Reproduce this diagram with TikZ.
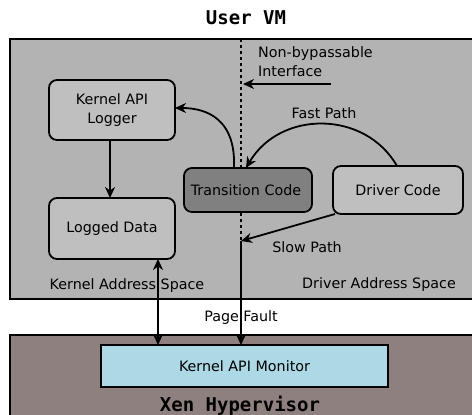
\documentclass[tikz,border=0pt]{standalone}
\usepackage{fontspec}
\setmainfont{DejaVu Sans}
\newfontfamily\monobold{DejaVu Sans Mono Bold}
\usetikzlibrary{arrows.meta}
\definecolor{vmgray}{HTML}{B3B3B3}
\definecolor{boxgray}{HTML}{BFBFBF}
\definecolor{darkbox}{HTML}{808080}
\definecolor{xenfill}{HTML}{8F8080}
\definecolor{monfill}{HTML}{ADD8E6}
\tikzset{
  region/.style={draw=black, line width=1.8pt},
  codebox/.style={draw=black, line width=1.8pt, rounded corners=8pt, fill=boxgray},
  lbl/.style={font=\fontsize{14.3}{19.5}\selectfont, inner sep=0pt, align=left},
  title/.style={font=\monobold\fontsize{19}{21}\selectfont, inner sep=0pt},
  flow/.style={line width=1.8pt, -{Stealth[length=11pt,width=10pt]}},
  biflow/.style={line width=1.8pt, {Stealth[length=11pt,width=10pt]}-{Stealth[length=11pt,width=10pt]}},
  barrier/.style={line width=1.8pt, dash pattern=on 3pt off 3pt},
}
\begin{document}
\begin{tikzpicture}[x=1pt,y=-1pt]
\clip (0,0) rectangle (472,415);
\fill[white] (0,0) rectangle (472,415);

% address-space regions
\draw[region, fill=vmgray] (10,39) rectangle (480,299);
\draw[region, fill=xenfill] (10,335) rectangle (480,425);

\node[title] (uvm) at (246,18) {User VM};
\node[title] (xen) at (240,406) {Xen Hypervisor};

% isolation boundary between kernel and driver
\coordinate (btop) at (241,39);
\coordinate (bslow) at (241,241);
\draw[barrier] (btop) -- (bslow);

% code and data blocks
\path[codebox] (49,80) rectangle (175,140);
\node[lbl, align=center] (logger) at (112,110) {Kernel API\\Logger};
\coordinate (loggerE) at (175,108);
\coordinate (loggerS) at (110,140);

\path[codebox] (49,198) rectangle (175,259);
\node[lbl] (logged) at (112,228.5) {Logged Data};
\coordinate (loggedN) at (110,198);
\coordinate (loggedS) at (158,259);

\path[codebox, fill=darkbox] (184,168) rectangle (312,212);
\node[lbl] (trans) at (246,190) {Transition Code};
\coordinate (transA) at (234,168);
\coordinate (transB) at (246,168);

\path[codebox] (333,166) rectangle (463,214);
\node[lbl] (driver) at (398,190) {Driver Code};
\coordinate (driverN) at (397,166);
\coordinate (driverSW) at (335,214);

\draw[line width=1.8pt, fill=monfill] (101,345) rectangle (388,387);
\node[lbl] (monitor) at (244.5,366) {Kernel API Monitor};
\coordinate (monA) at (158,345);
\coordinate (monB) at (241,345);

% labels
\node[lbl, anchor=west] (nbi) at (258,61.5) {Non-bypassable\\Interface};
\node[lbl] (fast) at (324,113) {Fast Path};
\node[lbl] (slow) at (307,247) {Slow Path};
\node[lbl] (kas) at (127,286) {Kernel Address Space};
\node[lbl] (das) at (379,285) {Driver Address Space};
\node[lbl] (pf) at (241,318) {Page Fault};

% connectors
\coordinate (nbiS) at (331,84);
\coordinate (nbiE) at (243,84);
\draw[flow] (nbiS) -- (nbiE);
\draw[flow] (transA) .. controls (236,120) and (208,108) .. (loggerE);
\draw[flow] (driverN) .. controls (365,110) and (280,110) .. (transB);
\draw[flow] (loggerS) -- (loggedN);
\draw[flow] (driverSW) -- (bslow);
\draw[flow] (bslow) -- (monB);
\draw[biflow] (loggedS) -- (monA);
\end{tikzpicture}
\end{document}
